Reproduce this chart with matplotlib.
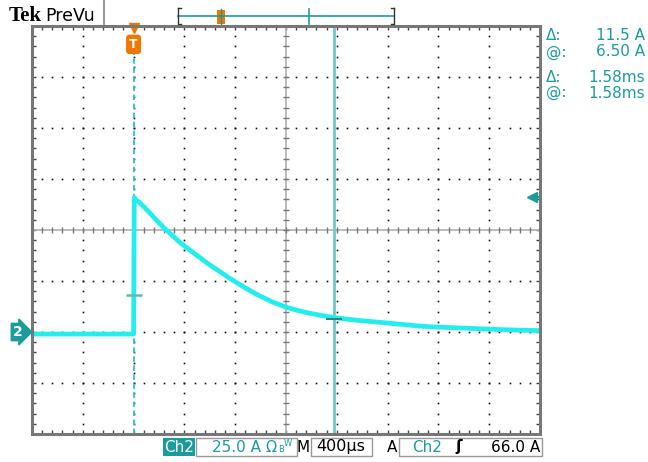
import numpy as np
import matplotlib.pyplot as plt
from matplotlib.patches import Rectangle
from matplotlib.lines import Line2D
import matplotlib.transforms as mtransforms

# scope settings
volts_div = 25.0      # A/div
time_div = 0.4        # ms/div
trig_level = 66.0     # A

# trace (time in ms, current in A)
t_ms = [-0.80, -0.40, -0.01, 0.00, 0.005, 0.019, 0.043, 0.08, 0.121, 0.16, 0.20,
        0.24, 0.30, 0.357, 0.44, 0.515, 0.59, 0.672, 0.75, 0.83, 0.91, 0.987,
        1.09, 1.20, 1.29, 1.38, 1.48, 1.59, 1.75, 1.93, 2.10, 2.25, 2.40, 2.56,
        2.72, 2.88, 3.04, 3.20]
i_amp = [-1.0, -1.0, -1.0, -1.0, 66.0, 64.7, 63.7, 61.4, 58.8, 56.1, 53.5,
         51.0, 47.6, 44.3, 40.3, 36.8, 33.3, 29.9, 26.6, 23.5, 20.5, 17.9,
         14.8, 12.2, 10.6, 9.3, 8.1, 7.0, 5.8, 4.8, 3.8, 2.9, 2.4, 2.0,
         1.6, 1.2, 0.9, 0.7]

# cursors
cur_t = [0.0, 1.58]
cur_a = [18.0, 6.5]

teal = '#1a9c9c'
cyan = '#22eeee'
orange = '#f07800'
W, H = 648, 462


def fx(px):
    return px / W


def fy(py):
    return 1 - py / H


fig = plt.figure(figsize=(6.48, 4.62), dpi=100)
ax = fig.add_axes([fx(32), fy(434), 508 / W, 408 / H])
x0, x1 = -2 * time_div, 8 * time_div
y0, y1 = -2 * volts_div, 6 * volts_div
ax.set_xlim(x0, x1)
ax.set_ylim(y0, y1)

# graticule
xmaj = np.arange(x0, x1 + 1e-6, time_div)
ymaj = np.arange(y0, y1 + 1e-6, volts_div)
xmin = np.arange(x0, x1 + 1e-6, time_div / 5)
ymin = np.arange(y0, y1 + 1e-6, volts_div / 5)
ax.set_xticks(xmaj)
ax.set_yticks(ymaj)
ax.set_xticks(xmin, minor=True)
ax.set_yticks(ymin, minor=True)
ax.tick_params(which='both', direction='in', length=3, width=1, color='#444444',
               top=True, right=True, labelbottom=False, labelleft=False)
for s in ax.spines.values():
    s.set_color('#777777')
    s.set_linewidth(2.2)

xc = x0 + 5 * time_div
yc = y0 + 4 * volts_div
for yv in ymaj[1:-1]:
    if abs(yv - yc) > 1e-6:
        ax.plot(xmin, [yv] * len(xmin), ls='none', marker='s', ms=1.2, mew=0, color='#111111')
for xv in xmaj[1:-1]:
    if abs(xv - xc) > 1e-6:
        ax.plot([xv] * len(ymin), ymin, ls='none', marker='s', ms=1.2, mew=0, color='#111111')
ax.axhline(yc, color='#b0b0b0', lw=1.2)
ax.axvline(xc, color='#b0b0b0', lw=1.2)
ax.plot(xmin, [yc] * len(xmin), ls='none', marker='|', ms=5, mew=1, color='#777777')
ax.plot([xc] * len(ymin), ymin, ls='none', marker='_', ms=5, mew=1, color='#777777')

# cursors
ax.plot([cur_t[0], cur_t[0]], [y0, y1 - 0.1 * volts_div * 4], color='#20c8c8', lw=1.3,
        ls=(0, (3, 2)))
ax.axvline(cur_t[1], color='#70c8c8', lw=2)

# trace
ax.plot(t_ms, i_amp, color=cyan, lw=3.4, solid_joinstyle='round')
ax.plot([0, 0], [-1, 66], color=cyan, lw=1.6)

# cursor crossing marks
ax.plot(cur_t[0], cur_a[0], marker='_', ms=11, mew=1.8, color='#5fb8b8')
ax.plot(cur_t[1], cur_a[1], marker='_', ms=11, mew=1.5, color='#3a8080')

# trigger level arrow at right edge
bt = mtransforms.blended_transform_factory(ax.transAxes, ax.transData)
ax.plot([0.99, 1.0], [trig_level, trig_level], color=teal, lw=1.5, transform=bt, clip_on=False)
ax.plot(0.985, trig_level, marker='<', ms=7, color=teal, transform=bt, clip_on=False)

# trigger marker at top
bx = mtransforms.blended_transform_factory(ax.transData, ax.transAxes)
ax.plot(0, 0.995, marker='v', ms=7, color=orange, transform=bx, clip_on=False)
ax.text(0, 0.955, 'T', color='white', fontsize=9, fontweight='bold', ha='center', va='center',
        transform=bx, bbox=dict(boxstyle='round,pad=0.2', fc=orange, ec=orange))

# ground marker
ax.text(-0.028, 0, '2', color='white', fontsize=10, fontweight='bold', ha='center', va='center',
        transform=bt, clip_on=False,
        bbox=dict(boxstyle='rarrow,pad=0.12', fc=teal, ec=teal))

# top bar
fig.text(fx(9), fy(16), 'Tek', fontsize=15, fontweight='bold', family='Liberation Serif',
         va='center')
fig.text(fx(45), fy(16), 'PreVu', fontsize=12.5, va='center')
fig.add_artist(Line2D([fx(104), fx(104)], [fy(0), fy(24)], color='#999999', lw=1.5))
fig.add_artist(Line2D([fx(178), fx(394)], [fy(16), fy(16)], color=teal, lw=1.2))
fig.add_artist(Line2D([fx(178), fx(178), fx(181)], [fy(8), fy(24), fy(24)], color='#333333', lw=1))
fig.add_artist(Line2D([fx(178), fx(181)], [fy(8), fy(8)], color='#333333', lw=1))
fig.add_artist(Line2D([fx(394), fx(394), fx(391)], [fy(8), fy(24), fy(24)], color='#333333', lw=1))
fig.add_artist(Line2D([fx(394), fx(391)], [fy(8), fy(8)], color='#333333', lw=1))
fig.add_artist(Line2D([fx(309), fx(309)], [fy(9), fy(24)], color=teal, lw=1.2))
fig.add_artist(Rectangle((fx(217), fy(24)), 8 / W, 14 / H, fc=orange, ec='none'))
fig.add_artist(Line2D([fx(221), fx(221)], [fy(9), fy(24)], color=teal, lw=1))

# cursor readouts
rows = [('Δ:', '11.5 A', 35), ('@:', '6.50 A', 52), ('Δ:', '1.58ms', 77), ('@:', '1.58ms', 93)]
for lab, val, yy in rows:
    fig.text(fx(546), fy(yy), lab, color=teal, fontsize=11, va='center')
    fig.text(fx(645), fy(yy), val, color=teal, fontsize=11, va='center', ha='right')

# bottom status bar
fig.add_artist(Rectangle((fx(163), fy(456)), 32 / W, 18 / H, fc=teal, ec='none'))
fig.text(fx(179), fy(447), 'Ch2', color='white', fontsize=11, ha='center', va='center')
for xa, xb in [(196, 297), (311, 372), (399, 542)]:
    fig.add_artist(Rectangle((fx(xa), fy(456)), (xb - xa) / W, 18 / H, fc='none',
                             ec='#999999', lw=1))
fig.text(fx(212), fy(447), '25.0 A', color=teal, fontsize=11, va='center')
fig.text(fx(265), fy(447), 'Ω', color=teal, fontsize=10.5, va='center')
fig.text(fx(278), fy(449), 'B', color=teal, fontsize=6, va='center')
fig.text(fx(284), fy(444), 'W', color=teal, fontsize=6, va='center')
fig.text(fx(297), fy(447), 'M', color='black', fontsize=11, va='center')
fig.text(fx(316), fy(447), '400µs', color='black', fontsize=11.5, va='center')
fig.text(fx(387), fy(447), 'A', color='black', fontsize=11, va='center')
fig.text(fx(412), fy(447), 'Ch2', color=teal, fontsize=11, va='center')
fig.text(fx(455), fy(447), 'ʃ', color='black', fontsize=11, fontweight='bold', va='center')
fig.text(fx(540), fy(447), '66.0 A', color='black', fontsize=11, va='center', ha='right')

fig.savefig('out.png', dpi=100, facecolor='white')
